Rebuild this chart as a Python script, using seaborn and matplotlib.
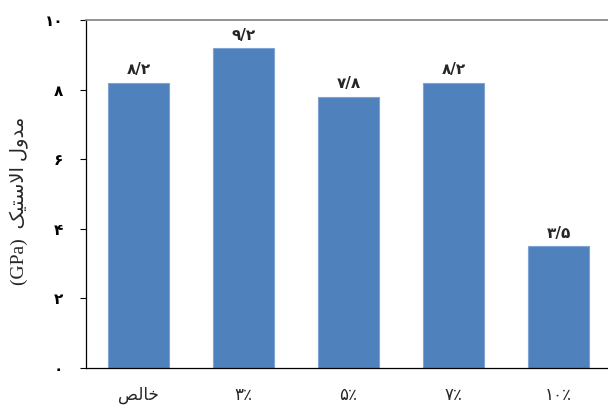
import matplotlib
matplotlib.use("Agg")
import matplotlib.pyplot as plt
import seaborn as sns
import pandas as pd

# داده‌ها (ارقام فارسی، به ترتیب نمایش)
categories = ["\uFEBA\uFEDF\uFE8E\uFEA7", "۳٪", "۵٪", "۷٪", "۱۰٪"]
values = [8.2, 9.2, 7.8, 8.2, 3.5]
value_labels = ["۸/۲", "۹/۲", "۷/۸", "۸/۲", "۳/۵"]
y_ticks = [0, 2, 4, 6, 8, 10]
y_tick_labels = ["۰", "۲", "۴", "۶", "۸", "۱۰"]
y_label = "(GPa)  \uFB8F\uFEF4\uFE98\uFEB3\uFEFB\uFE8D \uFEDD\uFEED\uFEAA\uFEE3"

df = pd.DataFrame({"cat": categories, "val": values})

sns.set_theme(style="white")
plt.rcParams["font.family"] = ["Liberation Serif", "DejaVu Sans"]

fig = plt.figure(figsize=(6.08, 4.07), dpi=100)
ax = fig.add_axes([86 / 608, 39 / 407, 1 - 86 / 608, 348 / 407])

sns.barplot(data=df, x="cat", y="val", color="#4F81BD", saturation=1,
            width=0.58, edgecolor="#7FA3D3", linewidth=0.8, ax=ax)

# برچسب مقدار بالای هر ستون
for i, (v, lab) in enumerate(zip(values, value_labels)):
    ax.text(i, v + 0.15, lab, ha="center", va="bottom", fontsize=11,
            fontweight="bold", family=["DejaVu Sans"])

ax.set_ylim(0, 10)
ax.set_xlim(-0.5, 4.47)
ax.set_yticks(y_ticks)
ax.set_yticklabels(y_tick_labels, fontsize=11, fontweight="bold",
                   family=["DejaVu Sans"])
ax.set_xticks(range(len(categories)))
ax.set_xticklabels(categories, fontsize=12, family=["DejaVu Sans"])
ax.tick_params(axis="y", direction="out", length=4.5, width=0.8, pad=12,
               colors="black", left=True)
ax.tick_params(axis="x", length=0, pad=13)

ax.set_xlabel("")
ax.set_ylabel(y_label, fontsize=14)
ax.yaxis.set_label_coords(-0.11, 0.48)

ax.spines["right"].set_visible(False)
ax.spines["top"].set_color("#808080")
ax.spines["top"].set_linewidth(1.2)
ax.spines["left"].set_color("black")
ax.spines["left"].set_linewidth(0.9)
ax.spines["bottom"].set_color("black")
ax.spines["bottom"].set_linewidth(0.9)

fig.savefig("out.png", dpi=100)
